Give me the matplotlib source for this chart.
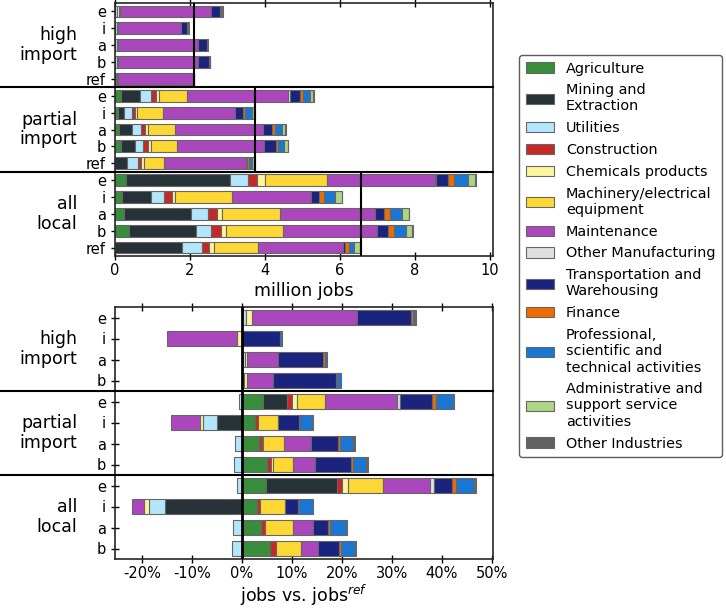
import matplotlib
matplotlib.use("Agg")
import matplotlib.pyplot as plt
import matplotlib.transforms as mtransforms
from matplotlib.patches import Patch
import numpy as np

sectors = ["Agriculture", "Mining and\nExtraction", "Utilities", "Construction",
           "Chemicals products", "Machinery/electrical\nequipment", "Maintenance",
           "Other Manufacturing", "Transportation and\nWarehousing", "Finance",
           "Professional,\nscientific and\ntechnical activities",
           "Administrative and\nsupport service\nactivities", "Other Industries"]
colors = ["#388E3C", "#263238", "#B3E5FC", "#C62828", "#FFF59D", "#FDD835",
          "#AB47BC", "#E0E0E0", "#1A237E", "#EF6C00", "#1976D2", "#AED581", "#616161"]

groups = ["high\nimport", "partial\nimport", "all\nlocal"]
top_rows = ["e", "i", "a", "b", "ref"]
bottom_rows = ["e", "i", "a", "b"]

# million jobs, rows e, i, a, b, ref ; columns in sector order
high_import_jobs = [
    [0, 0.01, 0.04, 0, 0.05, 0.03, 2.43, 0, 0.25, 0.01, 0.02, 0, 0.03],
    [0, 0.01, 0.03, 0, 0.01, 0.03, 1.68, 0, 0.17, 0, 0.01, 0, 0.02],
    [0, 0.01, 0.03, 0, 0.03, 0.02, 2.13, 0, 0.22, 0.01, 0.01, 0, 0.02],
    [0, 0.01, 0.03, 0, 0.03, 0.02, 2.11, 0, 0.31, 0.01, 0.01, 0, 0.01],
    [0, 0.02, 0.02, 0, 0.02, 0.03, 1.98, 0, 0.02, 0.005, 0.005, 0, 0.01],
]
partial_import_jobs = [
    [0.17, 0.49, 0.29, 0.13, 0.10, 0.74, 2.70, 0.04, 0.27, 0.09, 0.17, 0.08, 0.03],
    [0.08, 0.15, 0.21, 0.09, 0.06, 0.69, 1.93, 0, 0.19, 0.06, 0.18, 0.07, 0.01],
    [0.11, 0.34, 0.25, 0.11, 0.07, 0.71, 2.36, 0, 0.24, 0.07, 0.18, 0.09, 0.02],
    [0.17, 0.36, 0.22, 0.13, 0.07, 0.71, 2.32, 0, 0.30, 0.07, 0.15, 0.10, 0.02],
    [0, 0.32, 0.29, 0.09, 0.07, 0.54, 2.17, 0, 0.04, 0.06, 0.06, 0.07, 0.02],
]
all_local_jobs = [
    [0.30, 2.76, 0.48, 0.25, 0.21, 1.66, 2.86, 0.04, 0.32, 0.17, 0.36, 0.19, 0.02],
    [0.19, 0.78, 0.34, 0.22, 0.07, 1.53, 2.10, 0, 0.20, 0.15, 0.29, 0.17, 0.02],
    [0.24, 1.78, 0.46, 0.23, 0.13, 1.56, 2.52, 0, 0.24, 0.16, 0.33, 0.18, 0.02],
    [0.37, 1.80, 0.40, 0.25, 0.15, 1.52, 2.49, 0, 0.31, 0.16, 0.30, 0.17, 0.02],
    [0, 1.79, 0.53, 0.18, 0.14, 1.18, 2.27, 0, 0.05, 0.11, 0.13, 0.15, 0.03],
]

# % change vs ref, rows e, i, a, b
high_import_pct = [
    [0, 0, 0.8, 0, 1.33, 0, 20.93, 0, 10.87, 0.33, 0.4, 0, 0.27],
    [0, 0, 0, 0, -1.0, 0, -14.07, 0, 7.7, 0, 0.35, 0, 0],
    [0, 0, 0.67, 0, 0.33, 0, 6.27, 0, 9.0, 0.46, 0.34, 0, 0],
    [0, 0, 0.53, 0, 0.54, 0, 5.2, 0, 12.53, 0.33, 0.8, 0, 0],
]
partial_import_pct = [
    [4.27, 4.86, -0.5, 1.0, 0.94, 5.53, 14.47, 0.66, 6.4, 0.67, 3.47, 0, 0.23],
    [2.73, -5.07, -2.66, 0.54, -0.67, 4.0, -5.8, 0, 4.13, 0.33, 2.4, 0, 0.07],
    [3.4, 0, -1.33, 0.67, 0.2, 4.2, 5.4, 0, 5.33, 0.4, 2.73, 0, 0.27],
    [5.07, 0, -1.53, 0.86, 0.34, 4.0, 4.4, 0, 7.13, 0.53, 2.6, 0, 0.34],
]
all_local_pct = [
    [4.93, 14.2, -0.87, 1.0, 1.14, 7.0, 9.46, 0.67, 3.73, 0.8, 3.54, 0.3, 0.17],
    [3.07, -15.4, -3.13, 0.66, -1.0, 5.0, -2.47, 0, 2.54, 0.26, 2.74, 0, 0],
    [3.93, 0, -1.73, 0.8, 0, 5.47, 4.07, 0, 3.0, 0.46, 3.2, 0, 0.07],
    [5.73, 0, -1.93, 1.07, 0.13, 4.94, 3.33, 0, 4.2, 0.4, 2.8, 0, 0.2],
]

top_tick_vals = [0, 2, 4, 6, 8, 10]
bottom_tick_vals = [-20, -10, 0, 10, 20, 30, 40, 50]

EDGE = "0.4"
LW = 0.8
BAR_H = 0.7


def stacked(ax, rows, ypos):
    for vals, y in zip(rows, ypos):
        pos_left = 0.0
        neg_left = 0.0
        for v, c in zip(vals, colors):
            if v == 0:
                continue
            if v > 0:
                ax.barh(y, v, left=pos_left, height=BAR_H, color=c,
                        edgecolor=EDGE, linewidth=LW, zorder=2)
                pos_left += v
            else:
                ax.barh(y, v, left=neg_left, height=BAR_H, color=c,
                        edgecolor=EDGE, linewidth=LW, zorder=2)
                neg_left += v


fig = plt.figure(figsize=(7.26, 6.08), dpi=100)
ax1 = fig.add_axes([115 / 726, 1 - 256 / 608, 378 / 726, 253 / 608])
ax2 = fig.add_axes([115 / 726, 1 - 559 / 608, 378 / 726, 252 / 608])

# ---- top panel
top_data = [high_import_jobs, partial_import_jobs, all_local_jobs]
n_top = len(top_rows)
yt = []
ylabels_top = []
for gi, g in enumerate(top_data):
    ys = [gi * n_top + k for k in range(n_top)]
    stacked(ax1, g, ys)
    yt += ys
    ylabels_top += top_rows
    ref_total = sum(g[-1])
    ax1.vlines(ref_total, gi * n_top - 0.5, gi * n_top + n_top - 0.5,
               color="black", lw=1.5, zorder=3)

ax1.set_yticks(yt)
ax1.set_yticklabels(ylabels_top)
ax1.set_ylim(len(yt) - 0.5, -0.5)
ax1.set_xlim(0, 10.08)
ax1.set_xticks(top_tick_vals)
ax1.set_xticklabels([str(t) for t in top_tick_vals])
ax1.set_xlabel("million jobs", fontsize=12.5, labelpad=3)

# ---- bottom panel
bottom_data = [high_import_pct, partial_import_pct, all_local_pct]
n_bot = len(bottom_rows)
yb = []
ylabels_bot = []
for gi, g in enumerate(bottom_data):
    ys = [gi * n_bot + k for k in range(n_bot)]
    stacked(ax2, g, ys)
    yb += ys
    ylabels_bot += bottom_rows
ax2.axvline(0, color="black", lw=2, zorder=3)
ax2.set_yticks(yb)
ax2.set_yticklabels(ylabels_bot)
ax2.set_ylim(len(yb) - 0.5, -0.5)
ax2.set_xlim(-25.4, 50.3)
ax2.set_xticks(bottom_tick_vals)
ax2.set_xticklabels([f"{t}%" for t in bottom_tick_vals])
ax2.set_xlabel("jobs vs. jobs$^{ref}$", fontsize=12.5, labelpad=1)

for ax, n in [(ax1, n_top), (ax2, n_bot)]:
    trans = mtransforms.blended_transform_factory(ax.transAxes, ax.transData)
    for gi, name in enumerate(groups):
        ax.text(-0.1, gi * n + (n - 1) / 2, name, transform=trans,
                ha="right", va="center", fontsize=12.5, linespacing=1.1)
        if gi > 0:
            ax.plot([-0.305, 1.0], [gi * n - 0.5, gi * n - 0.5], transform=trans,
                    color="black", lw=1.5, clip_on=False, zorder=4)
    ax.tick_params(axis="both", labelsize=10.5, direction="inout", length=6,
                   width=1, top=True)
    ax.tick_params(axis="x", pad=2)
    for s in ax.spines.values():
        s.set_linewidth(1.2)
        s.set_color("0.15")

handles = [Patch(facecolor=c, edgecolor=EDGE, linewidth=LW) for c in colors]
leg = fig.legend(handles, sectors, loc="upper left",
                 bbox_to_anchor=(519 / 726, 1 - 55 / 608), fontsize=10.4,
                 frameon=True, fancybox=True, edgecolor="0.2",
                 handlelength=2.0, handletextpad=0.8, labelspacing=0.54,
                 borderpad=0.45, borderaxespad=0.0)
leg.get_frame().set_linewidth(1.0)

fig.savefig("out.png", dpi=100)
